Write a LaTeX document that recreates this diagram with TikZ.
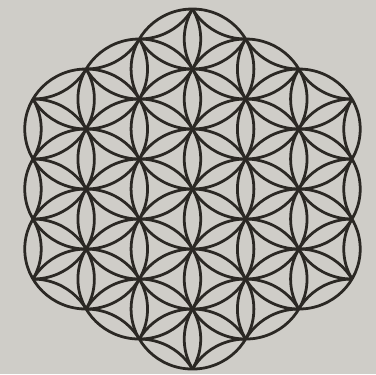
\documentclass[tikz,border=0pt]{standalone}
\usetikzlibrary{backgrounds}
\definecolor{cpaper}{HTML}{CFCDC8}
\definecolor{cink}{HTML}{2B2824}
\tikzset{
  every picture/.style={line width=2.1pt},
  ring/.style={draw=cink},
}
\begin{document}
\begin{tikzpicture}[x=1.637cm, y=1.6cm]
  % paper
  \fill[cpaper] (-3.135,-3.083) rectangle (2.989,3.15);
  \useasboundingbox (-3.135,-3.083) rectangle (2.989,3.15);
  % outer circles, only inside the union of the 19 full ones
  \begin{scope}
    \clip \foreach \a [evaluate=\a as \lo using {int(max(-2,-2-\a))},
                       evaluate=\a as \hi using {int(min(2,2-\a))}] in {-2,...,2} {
      \foreach \b in {\lo,...,\hi} { (0.866*\a, 0.5*\a+\b) circle[radius=1] }
    };
    \foreach \a in {-5,...,5} \foreach \b in {-8,...,8} {
      \pgfmathtruncatemacro\d{max(abs(\a),abs(\b),abs(\a+\b))}
      \ifnum\d>2 \ifnum\d<6
        \draw[ring] (0.866*\a, 0.5*\a+\b) circle[radius=1];
      \fi\fi
    }
  \end{scope}
  % the 19 full circles
  \foreach \a [evaluate=\a as \lo using {int(max(-2,-2-\a))},
               evaluate=\a as \hi using {int(min(2,2-\a))}] in {-2,...,2} {
    \foreach \b in {\lo,...,\hi} \draw[ring] (0.866*\a, 0.5*\a+\b) circle[radius=1];
  }
\end{tikzpicture}
\end{document}
